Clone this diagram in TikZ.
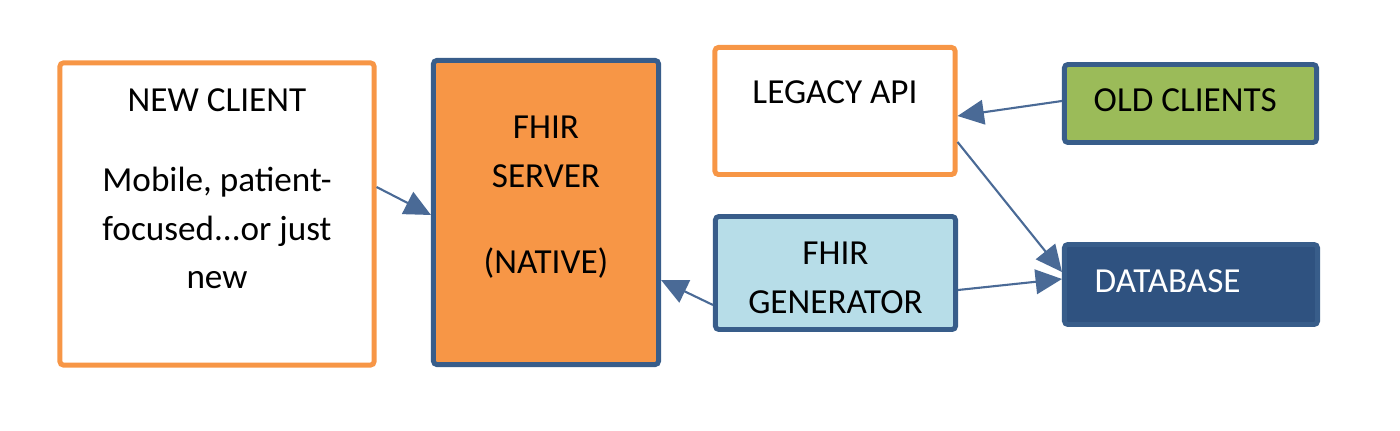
\documentclass[tikz,border=0pt]{standalone}
\usepackage{fontspec}
\setmainfont{Carlito}
\usetikzlibrary{arrows.meta}
\definecolor{boxorange}{HTML}{F79646}
\definecolor{boxblue}{HTML}{385D8A}
\definecolor{dbblue}{HTML}{2F5280}
\definecolor{genblue}{HTML}{B7DDE8}
\definecolor{oldgreen}{HTML}{9BBB59}
\definecolor{linkblue}{HTML}{4A6A96}
\tikzset{
  box/.style={line width=1.4pt, rounded corners=1pt, inner sep=0pt},
  boxtext/.style={font=\fontsize{10}{13.7}\selectfont, anchor=base, inner sep=0pt},
  link/.style={draw=linkblue, line width=0.6pt, -{Triangle[length=7.5pt,width=7pt]}}
}
\begin{document}
\begin{tikzpicture}[x=0.01cm,y=-0.01cm]
\useasboundingbox (0,0) rectangle (1400,431);
% boxes
\node[box,draw=boxorange,fill=white,minimum width=3.14cm,minimum height=3.02cm](newclient) at (217,214) {};
\node[box,draw=boxblue,fill=boxorange,minimum width=2.25cm,minimum height=3.04cm](fhirserver) at (546,212.5) {};
\node[box,draw=boxorange,fill=white,minimum width=2.40cm,minimum height=1.27cm](legacy) at (835,111) {};
\node[box,draw=boxblue,fill=genblue,minimum width=2.40cm,minimum height=1.13cm](fhirgen) at (835.5,273) {};
\node[box,draw=boxblue,fill=oldgreen,minimum width=2.52cm,minimum height=0.78cm](oldclients) at (1190.5,103.5) {};
\node[box,draw=boxblue,fill=dbblue,minimum width=2.53cm,minimum height=0.80cm](database) at (1191,284.5) {};
% texts
\node[boxtext](newclient-t) at (newclient.center |- 0,112) {NEW CLIENT};
\node[boxtext,text width=3cm,align=flush center](newclient-d) at (newclient.center |- 0,192) {Mobile, patient-\\focused...or just\\new};
\node[boxtext,text width=2cm,align=flush center](fhirserver-t) at (fhirserver.center |- 0,139) {FHIR\\SERVER\\[2.3ex](NATIVE)};
\node[boxtext](legacy-t) at (legacy.center |- 0,104) {LEGACY API};
\node[boxtext,text width=2cm,align=flush center](fhirgen-t) at (fhirgen.center |- 0,265) {FHIR\\GENERATOR};
\node[boxtext,anchor=base west](oldclients-t) at (1093,112) {OLD CLIENTS};
\node[boxtext,anchor=base west,text=white](database-t) at (1094,293) {DATABASE};
% connectors
\draw[link] (newclient.east |- 0,187) -- (fhirserver.west |- 0,215);
\draw[link] (fhirgen.west |- 0,305) -- (fhirserver.east |- 0,280);
\draw[link] (oldclients.west |- 0,101) -- (legacy.east |- 0,116);
\draw[link] (legacy.east |- 0,142) -- (database.west |- 0,272);
\draw[link] (fhirgen.east |- 0,290) -- (database.west |- 0,279);
\end{tikzpicture}
\end{document}
